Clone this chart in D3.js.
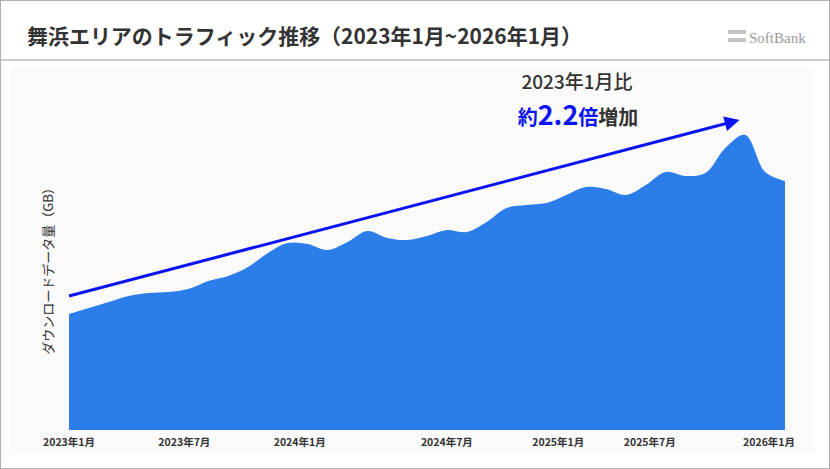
<!DOCTYPE html>
<html><head><meta charset="utf-8">
<script src="https://cdn.jsdelivr.net/npm/d3@7"></script>
<style>body{margin:0;background:#fff}svg{display:block;font-family:"Noto Sans CJK JP","Noto Sans",sans-serif}</style>
</head><body><svg id="c" width="830" height="469"></svg>
<script>
// monthly traffic, 2023/1 .. 2026/1 (relative units)
const months = d3.range(37);
const traffic = [116,122,128,134,137,138,141,149,154,163,177,187,186,180,188,199,192,190,194,200,198,208,222,225,227,235,243,241,235,245,258,254,257,282,295,258,249];
const tickLabels = ["2023年1月","2023年7月","2024年1月","2024年7月","2025年1月","2025年7月","2026年1月"];
const tickAt = [0,5.8,11.6,19.0,24.6,29.2,35.2];

const svg = d3.select("#c");
svg.append("rect").attr("x",0.5).attr("y",0.5).attr("width",829).attr("height",468).attr("fill","#fff").attr("stroke","#b0b0b0");
svg.append("text").attr("x",27).attr("y",44).attr("font-size",21).attr("font-weight",700).attr("fill","#333")
  .attr("textLength",555).attr("lengthAdjust","spacingAndGlyphs")
  .text("舞浜エリアのトラフィック推移（2023年1月~2026年1月）");
// logo
svg.append("rect").attr("x",728).attr("y",30).attr("width",18).attr("height",4).attr("fill","#c4c4c4");
svg.append("rect").attr("x",728).attr("y",38).attr("width",18).attr("height",4).attr("fill","#c4c4c4");
svg.append("text").attr("x",749).attr("y",43).attr("font-size",15).attr("font-family","Liberation Serif").attr("fill","#999").text("SoftBank");
svg.append("line").attr("x1",1).attr("x2",829).attr("y1",60).attr("y2",60).attr("stroke","#ccc").attr("stroke-width",2);

svg.append("rect").attr("x",10).attr("y",67).attr("width",805).attr("height",387).attr("fill","#fbfafb");

const x = d3.scaleLinear().domain([0,36]).range([69,785]);
const y = d3.scaleLinear().domain([0,362]).range([430,68]);

const area = d3.area().x(d=>x(d)).y0(y(0)).y1(d=>y(traffic[d])).curve(d3.curveCatmullRom);
svg.append("path").datum(months).attr("d",area).attr("fill","#2b7de9");

svg.append("g").selectAll("text").data(tickLabels).join("text")
  .attr("x",(d,i)=>x(tickAt[i])).attr("y",446).attr("text-anchor","middle")
  .attr("font-size",10.5).attr("font-weight",700).attr("fill","#333").text(d=>d);

svg.append("text").attr("transform","translate(53,268) rotate(-90)").attr("text-anchor","middle")
  .attr("font-size",13).attr("fill","#333").text("ダウンロードデータ量（GB）");

// trend arrow
const blue = "#0a14f0";
const defs = svg.append("defs");
defs.append("marker").attr("id","ah").attr("viewBox","0 0 10 10").attr("refX",2).attr("refY",5)
  .attr("markerWidth",6).attr("markerHeight",5).attr("orient","auto")
  .append("path").attr("d","M0,0L10,5L0,10Z").attr("fill",blue);
svg.append("line").attr("x1",x(0)).attr("y1",296).attr("x2",728).attr("y2",123)
  .attr("stroke",blue).attr("stroke-width",3).attr("marker-end","url(#ah)");

svg.append("text").attr("x",577).attr("y",89).attr("text-anchor","middle").attr("font-size",19).attr("font-weight",500).attr("fill","#333").text("2023年1月比");
const t = svg.append("text").attr("x",578).attr("y",125).attr("text-anchor","middle").attr("font-weight",700);
t.append("tspan").attr("font-size",20).attr("fill",blue).text("約");
t.append("tspan").attr("font-size",27).attr("fill",blue).text("2.2");
t.append("tspan").attr("font-size",20).attr("fill",blue).text("倍");
t.append("tspan").attr("font-size",20).attr("fill","#333").text("増加");
</script></body></html>
